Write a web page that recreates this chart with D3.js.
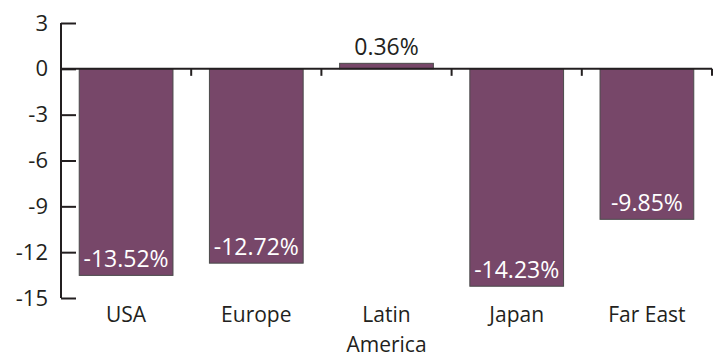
<!DOCTYPE html>
<html>
<head>
<meta charset="utf-8">
<script src="https://cdn.jsdelivr.net/npm/d3@7"></script>
<style>
  body { margin: 0; background: #fff; }
  text { font-family: "Open Sans", "Noto Sans", sans-serif; }
</style>
</head>
<body>
<svg id="chart" width="717" height="357"></svg>
<script>
// data
var categories = ["USA", "Europe", "Latin America", "Japan", "Far East"];
var values = [-13.52, -12.72, 0.36, -14.23, -9.85];
var yTicks = [3, 0, -3, -6, -9, -12, -15];

var svg = d3.select("#chart");
var ink = "#231f20", barFill = "#774769";

var x = d3.scaleBand()
    .domain(categories)
    .range([61, 712])
    .paddingInner(0.28)
    .paddingOuter(0.14);

var y = d3.scaleLinear()
    .domain([-15, 3])
    .range([298, 23]);

// bars
svg.append("g").selectAll("rect")
    .data(values)
    .join("rect")
    .attr("x", function(d, i) { return x(categories[i]); })
    .attr("width", x.bandwidth())
    .attr("y", function(d) { return y(Math.max(0, d)); })
    .attr("height", function(d) { return Math.abs(y(d) - y(0)); })
    .attr("fill", barFill)
    .attr("stroke", "#4a4a4a")
    .attr("stroke-width", 1);

// value labels
svg.append("g").selectAll("text")
    .data(values)
    .join("text")
    .attr("x", function(d, i) { return x(categories[i]) + x.bandwidth() / 2; })
    .attr("y", function(d) { return y(d) - 8; })
    .attr("text-anchor", "middle")
    .attr("font-size", 23)
    .attr("fill", function(d) { return d < 0 ? "#fff" : ink; })
    .text(function(d) { return d.toFixed(2) + "%"; });

// y axis (plain hyphen for negatives)
var yAxis = svg.append("g")
    .attr("transform", "translate(61,0)")
    .call(d3.axisRight(y).tickValues(yTicks).tickSize(15).tickFormat(function(d) { return String(d); }));
yAxis.select(".domain").attr("d", "M0," + y(3) + "V" + y(-15)).attr("stroke", ink).attr("stroke-width", 2);
yAxis.selectAll(".tick line").attr("stroke", ink).attr("stroke-width", 2);
yAxis.selectAll(".tick text")
    .attr("x", -13)
    .attr("text-anchor", "end")
    .attr("font-size", 22)
    .attr("fill", ink);

// zero line with category separators
var xAxis = svg.append("g")
    .attr("transform", "translate(0," + y(0) + ")");
xAxis.append("line")
    .attr("x1", 61).attr("x2", 712)
    .attr("stroke", ink).attr("stroke-width", 2);
xAxis.selectAll(".sep")
    .data(categories)
    .join("line")
    .attr("class", "sep")
    .attr("x1", function(d) { return x(d) - x.step() * x.paddingOuter() + x.step(); })
    .attr("x2", function(d) { return x(d) - x.step() * x.paddingOuter() + x.step(); })
    .attr("y1", 0).attr("y2", 7)
    .attr("stroke", ink).attr("stroke-width", 2);

// category labels
var labels = svg.append("g").selectAll("text")
    .data(categories)
    .join("text")
    .attr("x", function(d) { return x(d) + x.bandwidth() / 2; })
    .attr("y", 322)
    .attr("text-anchor", "middle")
    .attr("font-size", 21)
    .attr("fill", ink);
labels.each(function(d) {
  var words = d === "Latin America" ? ["Latin", "America"] : [d];
  d3.select(this).selectAll("tspan")
      .data(words)
      .join("tspan")
      .attr("x", x(d) + x.bandwidth() / 2)
      .attr("dy", function(w, i) { return i ? 30 : 0; })
      .text(function(w) { return w; });
});
</script>
</body>
</html>
